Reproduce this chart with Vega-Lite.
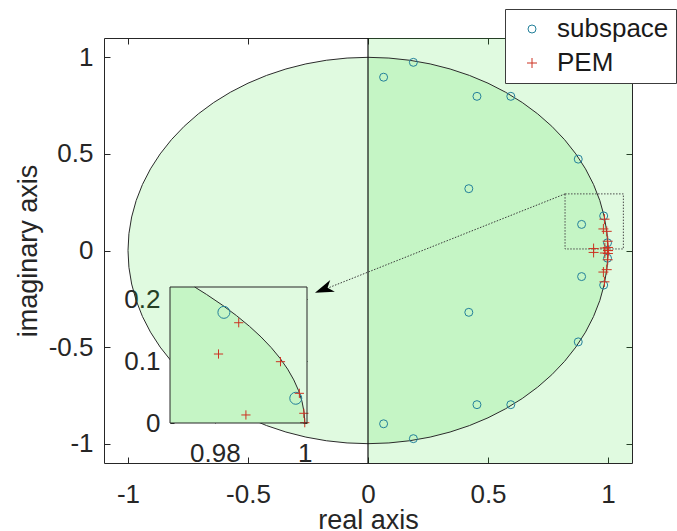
{
  "$schema": "https://vega.github.io/schema/vega-lite/v6.json",
  "width": 528,
  "height": 425,
  "autosize": {"type": "none"},
  "padding": {"left": 104, "top": 38, "right": 45, "bottom": 68},
  "background": "white",
  "config": {
    "view": {"stroke": "#262626", "strokeWidth": 1},
    "font": "Liberation Sans",
    "axis": {
      "grid": false,
      "domain": false,
      "tickColor": "#262626",
      "tickWidth": 1,
      "labelColor": "#262626",
      "labelFont": "Liberation Sans",
      "titleFont": "Liberation Sans",
      "titleColor": "#262626",
      "titleFontWeight": "normal",
      "labelFontSize": 26,
      "titleFontSize": 27,
      "zindex": 1
    }
  },
  "datasets": {
    "unitCircle": [
      {"c": 1, "s": 0, "ns": 0},
      {"c": 0.99619, "s": 0.08716, "ns": -0.08716},
      {"c": 0.98481, "s": 0.17365, "ns": -0.17365},
      {"c": 0.96593, "s": 0.25882, "ns": -0.25882},
      {"c": 0.93969, "s": 0.34202, "ns": -0.34202},
      {"c": 0.90631, "s": 0.42262, "ns": -0.42262},
      {"c": 0.86603, "s": 0.5, "ns": -0.5},
      {"c": 0.81915, "s": 0.57358, "ns": -0.57358},
      {"c": 0.76604, "s": 0.64279, "ns": -0.64279},
      {"c": 0.70711, "s": 0.70711, "ns": -0.70711},
      {"c": 0.64279, "s": 0.76604, "ns": -0.76604},
      {"c": 0.57358, "s": 0.81915, "ns": -0.81915},
      {"c": 0.5, "s": 0.86603, "ns": -0.86603},
      {"c": 0.42262, "s": 0.90631, "ns": -0.90631},
      {"c": 0.34202, "s": 0.93969, "ns": -0.93969},
      {"c": 0.25882, "s": 0.96593, "ns": -0.96593},
      {"c": 0.17365, "s": 0.98481, "ns": -0.98481},
      {"c": 0.08716, "s": 0.99619, "ns": -0.99619},
      {"c": 0, "s": 1, "ns": -1},
      {"c": -0.08716, "s": 0.99619, "ns": -0.99619},
      {"c": -0.17365, "s": 0.98481, "ns": -0.98481},
      {"c": -0.25882, "s": 0.96593, "ns": -0.96593},
      {"c": -0.34202, "s": 0.93969, "ns": -0.93969},
      {"c": -0.42262, "s": 0.90631, "ns": -0.90631},
      {"c": -0.5, "s": 0.86603, "ns": -0.86603},
      {"c": -0.57358, "s": 0.81915, "ns": -0.81915},
      {"c": -0.64279, "s": 0.76604, "ns": -0.76604},
      {"c": -0.70711, "s": 0.70711, "ns": -0.70711},
      {"c": -0.76604, "s": 0.64279, "ns": -0.64279},
      {"c": -0.81915, "s": 0.57358, "ns": -0.57358},
      {"c": -0.86603, "s": 0.5, "ns": -0.5},
      {"c": -0.90631, "s": 0.42262, "ns": -0.42262},
      {"c": -0.93969, "s": 0.34202, "ns": -0.34202},
      {"c": -0.96593, "s": 0.25882, "ns": -0.25882},
      {"c": -0.98481, "s": 0.17365, "ns": -0.17365},
      {"c": -0.99619, "s": 0.08716, "ns": -0.08716},
      {"c": -1, "s": 0, "ns": 0}
    ],
    "insetArc": [
      {"c": 1, "s": 0},
      {"c": 0.99985, "s": 0.01745},
      {"c": 0.99939, "s": 0.0349},
      {"c": 0.99863, "s": 0.05234},
      {"c": 0.99756, "s": 0.06976},
      {"c": 0.99619, "s": 0.08716},
      {"c": 0.99452, "s": 0.10453},
      {"c": 0.99255, "s": 0.12187},
      {"c": 0.99027, "s": 0.13917},
      {"c": 0.98769, "s": 0.15643},
      {"c": 0.98481, "s": 0.17365},
      {"c": 0.98163, "s": 0.19081},
      {"c": 0.97815, "s": 0.20791},
      {"c": 0.9755, "s": 0.22}
    ],
    "poles": [
      {"re": 0.065, "im": 0.897, "method": "subspace"},
      {"re": 0.065, "im": -0.897, "method": "subspace"},
      {"re": 0.189, "im": 0.974, "method": "subspace"},
      {"re": 0.189, "im": -0.974, "method": "subspace"},
      {"re": 0.454, "im": 0.798, "method": "subspace"},
      {"re": 0.454, "im": -0.798, "method": "subspace"},
      {"re": 0.595, "im": 0.798, "method": "subspace"},
      {"re": 0.595, "im": -0.798, "method": "subspace"},
      {"re": 0.876, "im": 0.473, "method": "subspace"},
      {"re": 0.876, "im": -0.473, "method": "subspace"},
      {"re": 0.42, "im": 0.32, "method": "subspace"},
      {"re": 0.42, "im": -0.32, "method": "subspace"},
      {"re": 0.89, "im": 0.135, "method": "subspace"},
      {"re": 0.89, "im": -0.135, "method": "subspace"},
      {"re": 0.982, "im": 0.179, "method": "subspace"},
      {"re": 0.982, "im": -0.179, "method": "subspace"},
      {"re": 0.998, "im": 0.04, "method": "subspace"},
      {"re": 0.998, "im": -0.04, "method": "subspace"},
      {"re": 0.9853, "im": 0.1622, "method": "PEM"},
      {"re": 0.9853, "im": -0.1622, "method": "PEM"},
      {"re": 0.9808, "im": 0.1116, "method": "PEM"},
      {"re": 0.9808, "im": -0.1116, "method": "PEM"},
      {"re": 0.9946, "im": 0.0992, "method": "PEM"},
      {"re": 0.9946, "im": -0.0992, "method": "PEM"},
      {"re": 0.9988, "im": 0.048, "method": "PEM"},
      {"re": 0.9988, "im": -0.048, "method": "PEM"},
      {"re": 0.9869, "im": 0.013, "method": "PEM"},
      {"re": 0.9869, "im": -0.013, "method": "PEM"},
      {"re": 0.9998, "im": 0.0157, "method": "PEM"},
      {"re": 0.9998, "im": -0.0157, "method": "PEM"},
      {"re": 1.0, "im": 0.0005, "method": "PEM"},
      {"re": 1.0, "im": -0.0005, "method": "PEM"},
      {"re": 0.94, "im": 0.01, "method": "PEM"},
      {"re": 0.94, "im": -0.01, "method": "PEM"}
    ]
  },
  "layer": [
    {
      "layer": [
        {
          "data": {"values": [{"x0": 0, "x1": 1.1, "y0": -1.1, "y1": 1.1}]},
          "mark": {"type": "rect", "fill": "#22dd22", "fillOpacity": 0.14, "opacity": 1},
          "encoding": {
            "x": {
              "field": "x0", "type": "quantitative",
              "scale": {"domain": [-1.1, 1.1], "nice": false, "zero": false},
              "axis": {
                "orient": "bottom", "offset": -6, "values": [-1, -0.5, 0, 0.5, 1], "tickSize": 6,
                "labelPadding": 18, "title": "real axis", "titlePadding": 0,
                "labelExpr": "datum.value < 0 ? '-' + format(-datum.value, '~g') : format(datum.value, '~g')"
              }
            },
            "x2": {"field": "x1"},
            "y": {
              "field": "y0", "type": "quantitative",
              "scale": {"domain": [-1.1, 1.1], "nice": false, "zero": false},
              "axis": {
                "orient": "left", "offset": -6, "values": [-1, -0.5, 0, 0.5, 1], "tickSize": 6,
                "labelPadding": 11, "title": "imaginary axis", "titlePadding": 6,
                "labelExpr": "datum.value < 0 ? '-' + format(-datum.value, '~g') : format(datum.value, '~g')"
              }
            },
            "y2": {"field": "y1"}
          }
        },
        {
          "data": {"name": "unitCircle"},
          "mark": {"type": "area", "fill": "#22dd22", "fillOpacity": 0.14, "opacity": 1},
          "encoding": {
            "x": {
              "field": "c", "type": "quantitative",
              "axis": {"orient": "top", "offset": -6, "values": [-1, -0.5, 0, 0.5, 1], "tickSize": 6, "labels": false, "title": null}
            },
            "y": {
              "field": "s", "type": "quantitative",
              "axis": {"orient": "right", "offset": -6, "values": [-1, -0.5, 0, 0.5, 1], "tickSize": 6, "labels": false, "title": null}
            },
            "y2": {"field": "ns"}
          }
        },
        {
          "data": {"name": "unitCircle"},
          "mark": {"type": "line", "color": "#2b2b2b", "strokeWidth": 1},
          "encoding": {
            "x": {"field": "c", "type": "quantitative", "axis": null},
            "y": {"field": "s", "type": "quantitative", "axis": null}
          }
        },
        {
          "data": {"name": "unitCircle"},
          "mark": {"type": "line", "color": "#2b2b2b", "strokeWidth": 1},
          "encoding": {
            "x": {"field": "c", "type": "quantitative", "axis": null},
            "y": {"field": "ns", "type": "quantitative", "axis": null}
          }
        },
        {
          "data": {"values": [{"x": 0}]},
          "mark": {"type": "rule", "color": "#111111", "strokeWidth": 1.2},
          "encoding": {"x": {"field": "x", "type": "quantitative", "axis": null}}
        },
        {
          "data": {"values": [{"x0": 0.821, "x1": 1.064, "y0": 0.008, "y1": 0.293}]},
          "mark": {"type": "rect", "fill": null, "stroke": "#4a4a4a", "strokeWidth": 1, "strokeDash": [1.5, 1.5]},
          "encoding": {
            "x": {"field": "x0", "type": "quantitative", "axis": null},
            "x2": {"field": "x1"},
            "y": {"field": "y0", "type": "quantitative", "axis": null},
            "y2": {"field": "y1"}
          }
        },
        {
          "data": {"values": [{"x0": 0.821, "y0": 0.293, "x1": -0.205, "y1": -0.213}]},
          "mark": {"type": "rule", "color": "#3a3a3a", "strokeWidth": 1, "strokeDash": [1.5, 1.5]},
          "encoding": {
            "x": {"field": "x0", "type": "quantitative", "axis": null},
            "y": {"field": "y0", "type": "quantitative", "axis": null},
            "x2": {"field": "x1"},
            "y2": {"field": "y1"}
          }
        },
        {
          "data": {"values": [{"x": -0.221, "y": -0.219}]},
          "mark": {
            "type": "point", "shape": "M0,0L2.1,-0.7L1.5,0L2.1,0.7Z", "filled": true,
            "color": "#000000", "opacity": 1, "size": 324, "angle": -21.5
          },
          "encoding": {
            "x": {"field": "x", "type": "quantitative", "axis": null},
            "y": {"field": "y", "type": "quantitative", "axis": null}
          }
        },
        {
          "data": {"name": "poles"},
          "mark": {"type": "point", "filled": false, "strokeWidth": 1, "opacity": 1},
          "encoding": {
            "x": {"field": "re", "type": "quantitative", "axis": null},
            "y": {"field": "im", "type": "quantitative", "axis": null},
            "color": {
              "field": "method", "type": "nominal",
              "scale": {"domain": ["subspace", "PEM"], "range": ["#23809a", "#cc3322"]},
              "legend": {
                "orient": "none", "legendX": 401, "legendY": -29, "title": null,
                "fillColor": "white", "strokeColor": "#3c3c3c", "padding": 7,
                "labelFontSize": 26, "labelFont": "Liberation Sans", "labelColor": "#1a1a1a",
                "symbolSize": 50, "symbolStrokeWidth": 1,
                "symbolOffset": 7, "labelOffset": 12,
                "rowPadding": 8, "cornerRadius": 0
              }
            },
            "shape": {
              "field": "method", "type": "nominal",
              "scale": {"domain": ["subspace", "PEM"], "range": ["circle", "M-1,0L1,0M0,-1L0,1"]}
            },
            "size": {
              "field": "method", "type": "ordinal",
              "scale": {"domain": ["subspace", "PEM"], "range": [64, 100]},
              "legend": null
            }
          }
        }
      ],
      "resolve": {"axis": {"x": "independent", "y": "independent"}}
    },
    {
      "layer": [
        {
          "data": {"values": [{"x0": 0.97, "x1": 1.0005, "y0": 0, "y1": 0.22}]},
          "mark": {"type": "rect", "fill": "white", "opacity": 1},
          "encoding": {
            "x": {
              "field": "x0", "type": "quantitative",
              "scale": {"domain": [0.97, 1.0005], "range": [66, 203], "nice": false, "zero": false},
              "axis": {"orient": "bottom", "offset": -44, "values": [0.98, 1], "format": "~g", "tickSize": 4, "labelPadding": 17, "title": null}
            },
            "x2": {"field": "x1"},
            "y": {
              "field": "y0", "type": "quantitative",
              "scale": {"domain": [0, 0.22], "range": [385, 249], "nice": false, "zero": false},
              "axis": {"orient": "left", "offset": -70, "values": [0, 0.1, 0.2], "format": "~g", "tickSize": 4, "labelPadding": 10, "title": null}
            },
            "y2": {"field": "y1"}
          }
        },
        {
          "data": {"values": [{"x0": 0.97, "x1": 1.0005, "y0": 0, "y1": 0.22}]},
          "mark": {"type": "rect", "fill": "#22dd22", "fillOpacity": 0.14, "opacity": 1},
          "encoding": {
            "x": {
              "field": "x0", "type": "quantitative",
              "axis": {"orient": "top", "offset": -253, "values": [0.98, 1], "tickSize": 4, "labels": false, "title": null}
            },
            "x2": {"field": "x1"},
            "y": {
              "field": "y0", "type": "quantitative",
              "axis": {"orient": "right", "offset": -329, "values": [0, 0.1, 0.2], "tickSize": 4, "labels": false, "title": null}
            },
            "y2": {"field": "y1"}
          }
        },
        {
          "data": {"name": "insetArc"},
          "mark": {"type": "area", "orient": "horizontal", "fill": "#22dd22", "fillOpacity": 0.14, "opacity": 1},
          "encoding": {
            "y": {"field": "s", "type": "quantitative", "axis": null},
            "x": {"field": "c", "type": "quantitative", "axis": null},
            "x2": {"datum": 0.97}
          }
        },
        {
          "data": {"name": "insetArc"},
          "mark": {"type": "line", "color": "#2b2b2b", "strokeWidth": 1},
          "encoding": {
            "x": {"field": "c", "type": "quantitative", "axis": null},
            "y": {"field": "s", "type": "quantitative", "axis": null}
          }
        },
        {
          "data": {"name": "poles"},
          "transform": [{"filter": "datum.method == 'subspace' && datum.re >= 0.97 && datum.im >= 0 && datum.im <= 0.22"}],
          "mark": {"type": "point", "shape": "circle", "filled": false, "color": "#23809a", "size": 144, "strokeWidth": 1, "opacity": 1},
          "encoding": {
            "x": {"field": "re", "type": "quantitative", "axis": null},
            "y": {"field": "im", "type": "quantitative", "axis": null}
          }
        },
        {
          "data": {"name": "poles"},
          "transform": [{"filter": "datum.method == 'PEM' && datum.re >= 0.97 && datum.im >= 0 && datum.im <= 0.22"}],
          "mark": {"type": "point", "shape": "M-1,0L1,0M0,-1L0,1", "filled": false, "color": "#cc3322", "size": 85, "strokeWidth": 1, "opacity": 1},
          "encoding": {
            "x": {"field": "re", "type": "quantitative", "axis": null},
            "y": {"field": "im", "type": "quantitative", "axis": null}
          }
        },
        {
          "data": {"values": [{"x0": 0.97, "x1": 1.0005, "y0": 0, "y1": 0.22}]},
          "mark": {"type": "rect", "fill": null, "stroke": "#262626", "strokeWidth": 1},
          "encoding": {
            "x": {"field": "x0", "type": "quantitative", "axis": null},
            "x2": {"field": "x1"},
            "y": {"field": "y0", "type": "quantitative", "axis": null},
            "y2": {"field": "y1"}
          }
        }
      ],
      "resolve": {"axis": {"x": "independent", "y": "independent"}}
    }
  ],
  "resolve": {"scale": {"x": "independent", "y": "independent"}}
}
